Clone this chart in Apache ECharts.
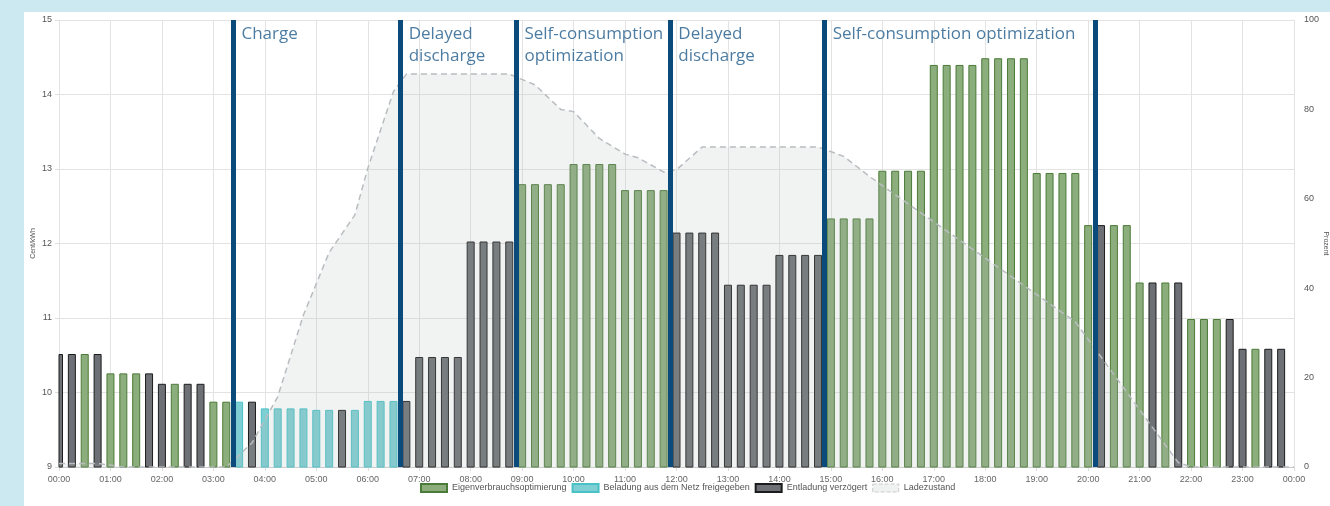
<!DOCTYPE html>
<html>
<head>
<meta charset="utf-8">
<title>Battery schedule</title>
<script src="https://cdn.jsdelivr.net/npm/echarts@6/dist/echarts.min.js"></script>
<style>
    body { margin: 0; background: #cce9f2; }
    #container { position: absolute; left: 24px; top: 12px; width: 1306px; height: 494px; background: #fff; }
</style>
</head>
<body>
<div id="container"></div>

<script type="text/javascript">

    // price per quarter hour, Cent/kWh (00:00 ... 23:45)
    let price = [
        10.51, 10.51, 10.51, 10.51,  10.25, 10.25, 10.25, 10.25,  10.11, 10.11, 10.11, 10.11,  9.87, 9.87, 9.87, 9.87,
        9.78, 9.78, 9.78, 9.78,      9.76, 9.76, 9.76, 9.76,      9.88, 9.88, 9.88, 9.88,      10.47, 10.47, 10.47, 10.47,
        12.02, 12.02, 12.02, 12.02,  12.79, 12.79, 12.79, 12.79,  13.06, 13.06, 13.06, 13.06,  12.71, 12.71, 12.71, 12.71,
        12.14, 12.14, 12.14, 12.14,  11.44, 11.44, 11.44, 11.44,  11.84, 11.84, 11.84, 11.84,  12.33, 12.33, 12.33, 12.33,
        12.97, 12.97, 12.97, 12.97,  14.39, 14.39, 14.39, 14.39,  14.48, 14.48, 14.48, 14.48,  12.94, 12.94, 12.94, 12.94,
        12.24, 12.24, 12.24, 12.24,  11.47, 11.47, 11.47, 11.47,  10.98, 10.98, 10.98, 10.98,  10.58, 10.58, 10.58, 10.58
    ]

    // mode per quarter hour: G = Eigenverbrauch, C = Beladung, D = Entladung verzoegert
    let mode = [
        'D','D','G','D',  'G','G','G','D',  'D','G','D','D',  'G','G','C','D',
        'C','C','C','C',  'C','C','D','C',  'C','C','C','D',  'D','D','D','D',
        'D','D','D','D',  'G','G','G','G',  'G','G','G','G',  'G','G','G','G',
        'D','D','D','D',  'D','D','D','D',  'D','D','D','D',  'G','G','G','G',
        'G','G','G','G',  'G','G','G','G',  'G','G','G','G',  'G','G','G','G',
        'G','D','G','G',  'G','D','G','D',  'G','G','G','D',  'D','G','D','D'
    ]

    // state of charge [hour, percent]
    let soc = [
        [0, 0.8], [0.75, 0.8], [1.25, 0], [3.25, 0], [3.75, 5.4], [4.25, 15.7], [4.75, 34],
        [5.25, 48], [5.75, 56.4], [6, 66.8], [6.5, 84], [6.75, 87.9], [8.75, 87.9], [9.25, 85.5],
        [9.75, 80], [10, 79.5], [10.5, 73.5], [11, 70], [11.25, 69.2], [11.75, 66], [12, 66.5],
        [12.5, 71.6], [14.75, 71.6], [15.25, 69.5], [15.75, 65], [19.75, 32.5], [21.75, 1],
        [22, 0], [24, 0]
    ]

    // mode switches (hours) and their labels
    let switchTimes = [3.39, 6.64, 8.89, 11.88, 14.88, 20.13]
    let switchLabels = ['Charge', 'Delayed\ndischarge', 'Self-consumption\noptimization', 'Delayed\ndischarge', 'Self-consumption optimization', '']

    let names = ['Eigenverbrauchsoptimierung', 'Beladung aus dem Netz freigegeben', 'Entladung verzögert', 'Ladezustand']
    let codes = ['G', 'C', 'D']
    let fills = ['#8cad7c', '#7ecfd3', '#6d7175']
    let borders = ['#4b7b38', '#48c2c7', '#1c1c1c']

    // bars as custom rects so the half bar at 00:00 gets clipped by the grid
    function renderBar(params, api) {
        let top = api.coord([api.value(0), api.value(1)])
        let base = api.coord([api.value(0), 9])
        let w = 7
        let cs = params.coordSys
        let shape = echarts.graphic.clipRectByRect(
            { x: top[0] - w / 2, y: top[1], width: w, height: base[1] - top[1] },
            { x: cs.x, y: cs.y, width: cs.width, height: cs.height }
        )
        return shape && { type: 'rect', shape: shape, style: api.style() }
    }

    function barSeries(k) {
        let d = []
        price.forEach(function (v, i) {
            if (mode[i] === codes[k]) d.push([i / 4, v])
        })
        return {
            name: names[k],
            type: 'custom',
            renderItem: renderBar,
            data: d,
            encode: { x: 0, y: 1 },
            itemStyle: { color: fills[k], borderColor: borders[k], borderWidth: 1 }
        }
    }

    function pad(n) { return (n < 10 ? '0' : '') + n }

    let chart = echarts.init(document.getElementById('container'))

    chart.setOption({
        animation: false,
        textStyle: { fontFamily: 'Liberation Sans' },
        grid: { left: 35, right: 36, top: 8, bottom: 39, containLabel: false, outerBoundsMode: 'none' },
        legend: {
            left: 396, top: 471, padding: 0,
            itemWidth: 26, itemHeight: 8, itemGap: 5,
            textStyle: { fontSize: 9, color: '#555' },
            data: [
                { name: names[0], icon: 'rect' },
                { name: names[1], icon: 'rect' },
                { name: names[2], icon: 'rect' },
                { name: names[3], icon: 'rect',
                  itemStyle: { color: '#f0f1f1', borderColor: '#c8cbce', borderType: 'dashed', borderWidth: 1 },
                  lineStyle: { width: 0 } }
            ]
        },
        xAxis: {
            type: 'value', min: 0, max: 24, interval: 1,
            axisLine: { lineStyle: { color: '#cccccc' } },
            axisTick: { show: true, length: 4, lineStyle: { color: '#dddddd' } },
            splitLine: { lineStyle: { color: '#e3e3e3' } },
            axisLabel: {
                fontSize: 9, color: '#666', margin: 8,
                formatter: function (v) { return pad(v % 24) + ':00' }
            }
        },
        yAxis: [
            {
                type: 'value', min: 9, max: 15, interval: 1,
                name: 'Cent/kWh', nameLocation: 'middle', nameGap: 22, nameMoveOverlap: false,
                nameTextStyle: { fontSize: 7, color: '#555' },
                axisLine: { show: false },
                axisTick: { show: true, length: 4, lineStyle: { color: '#dddddd' } },
                splitLine: { lineStyle: { color: '#e3e3e3' } },
                axisLabel: { fontSize: 9, color: '#555', margin: 7 }
            },
            {
                type: 'value', min: 0, max: 100, interval: 20, position: 'right',
                name: 'Prozent', nameLocation: 'middle', nameGap: 28, nameRotate: -90, nameMoveOverlap: false,
                nameTextStyle: { fontSize: 7, color: '#555' },
                axisLine: { show: false },
                axisTick: { show: false },
                splitLine: { show: false },
                axisLabel: { fontSize: 9, color: '#555', margin: 10 }
            }
        ],
        series: [
            barSeries(0),
            barSeries(1),
            barSeries(2),
            {
                name: names[3],
                type: 'line',
                yAxisIndex: 1,
                data: soc,
                symbol: 'none',
                z: 3,
                itemStyle: { color: '#f0f1f1', borderColor: '#c8cbce', borderType: 'dashed' },
                lineStyle: { color: '#b9bdc1', width: 1.5, type: [6, 4] },
                areaStyle: { color: 'rgba(175,182,182,0.25)' }
            },
            {
                name: 'switch',
                type: 'scatter',
                symbolSize: 0,
                z: 5,
                data: switchTimes.map(function (t, i) {
                    return { value: [t, 15], label: { formatter: switchLabels[i] } }
                }),
                label: {
                    show: true, position: [8, 3], align: 'left', verticalAlign: 'top',
                    fontFamily: 'Open Sans', fontSize: 17, lineHeight: 22, color: '#1f5a8a'
                },
                markLine: {
                    silent: true, symbol: 'none',
                    label: { show: false },
                    lineStyle: { color: '#0b4b7c', width: 5, type: 'solid' },
                    data: switchTimes.map(function (t) { return { xAxis: t } })
                }
            }
        ]
    }, true)

</script>
</body>
</html>
